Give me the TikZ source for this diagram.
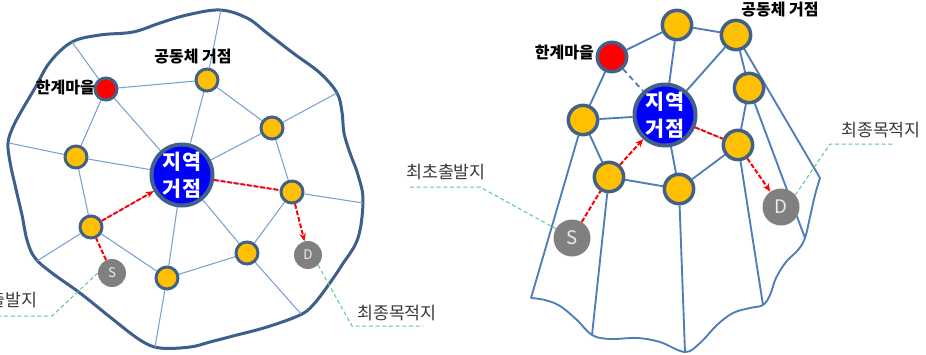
\documentclass[tikz,border=0pt]{standalone}
\usepackage{fontspec}
\newfontfamily\kr{Noto Sans CJK KR}
\usetikzlibrary{arrows.meta,backgrounds}
\definecolor{outlblue}{HTML}{3C5F8C}
\definecolor{thinblue}{HTML}{7BA1D0}
\definecolor{edgeblue}{HTML}{4F7DB9}
\definecolor{nborder}{HTML}{41608A}
\definecolor{nyellow}{HTML}{FFC000}
\definecolor{ngray}{HTML}{808080}
\definecolor{lgreen}{HTML}{5CCB85}
\definecolor{hubblue}{HTML}{0000FF}
\definecolor{labgray}{HTML}{3A3A3A}
\begin{document}
\begin{tikzpicture}[x=0.75pt,y=-0.75pt,
  yl/.style={circle,fill=nyellow,draw=nborder,line width=2.25pt,minimum size=16.5pt,inner sep=0pt},
  rd/.style={yl,fill=red},
  ylb/.style={circle,fill=nyellow,draw=nborder,line width=2.6pt,minimum size=22pt,inner sep=0pt},
  rdb/.style={ylb,fill=red},
  hub/.style={circle,fill=hubblue,draw=nborder,line width=3pt,minimum size=45.75pt,inner sep=0pt,
    text=white,align=center,font=\kr\bfseries\fontsize{15.5}{20.5}\selectfont},
  gs/.style={circle,fill=ngray,minimum size=21pt,inner sep=0pt,text=white!92!black,
    font=\kr\fontsize{10}{12}\selectfont},
  gb/.style={circle,fill=ngray,minimum size=27.75pt,inner sep=0pt,text=white!92!black,
    font=\kr\fontsize{14}{16}\selectfont},
  boldlab/.style={inner sep=0pt,font=\kr\bfseries\fontsize{12}{14}\selectfont,text=black},
  lab/.style={inner sep=0pt,font=\kr\fontsize{13}{15}\selectfont,text=labgray},
  outl/.style={draw=outlblue,line width=2.25pt},
  thinedge/.style={draw=thinblue,line width=0.8pt},
  redge/.style={draw=edgeblue,line width=1.4pt},
  reddash/.style={draw=red,line width=1.5pt,dash pattern=on 3.5pt off 1.5pt},
  redarrow/.style={reddash,-{Stealth[length=6pt,width=5pt]}},
  grn/.style={draw=lgreen,line width=0.75pt,dash pattern=on 3pt off 2pt}
]
\useasboundingbox (0,0) rectangle (926,354);
\clip (0,0) rectangle (926,354);

% ---------- left diagram ----------
\node[rd] (lR) at (106,89) {};
\node[yl] (lA) at (207,80) {};
\node[yl] (lB) at (272,128) {};
\node[yl] (lE) at (76,157) {};
\node[yl] (lF) at (292,192) {};
\node[yl] (lG) at (91,227) {};
\node[yl] (lH) at (247,253) {};
\node[yl] (lI) at (167,278) {};
\node[hub] (lC) at (182,175) {지역\\거점};
\node[gs] (lS) at (112,273) {S};
\node[gs] (lD) at (308,255) {D};

\coordinate (lo1) at (72,42);
\coordinate (lo2) at (221,10);
\coordinate (lo3) at (337,93);
\coordinate (lo4) at (9,143);
\coordinate (lo5) at (363,203);
\coordinate (lo6) at (37,261);
\coordinate (lo7) at (301,314);
\coordinate (lo8) at (155,347);

\begin{pgfonlayer}{background}
\draw[outl] plot[smooth cycle,tension=0.6] coordinates {
 (8,143) (13,127) (22,110) (35,88) (50,62) (72,42) (100,35) (133,32) (160,23) (187,15)
 (220,10) (247,18) (267,33) (293,53) (320,73) (337,93) (342,112) (344,133) (350,153)
 (358,175) (363,200) (358,238) (342,265) (327,287) (313,305) (300,315) (267,327)
 (233,336) (210,342) (190,347) (160,348) (140,340) (110,317) (80,293) (52,273)
 (35,258) (27,240) (22,215) (15,185) (10,162)};
\draw[thinedge] (lR) -- (lo1);
\draw[thinedge] (lR) -- (lA);
\draw[thinedge] (lR) -- (lC);
\draw[thinedge] (lR) -- (lE);
\draw[thinedge] (lA) -- (lo2);
\draw[thinedge] (lA) -- (lC);
\draw[thinedge] (lA) -- (lB);
\draw[thinedge] (lB) -- (lo3);
\draw[thinedge] (lB) -- (lC);
\draw[thinedge] (lB) -- (lF);
\draw[thinedge] (lE) -- (lo4);
\draw[thinedge] (lE) -- (lC);
\draw[thinedge] (lE) -- (lG);
\draw[thinedge] (lF) -- (lo5);
\draw[thinedge] (lF) -- (lC);
\draw[thinedge] (lF) -- (lH);
\draw[thinedge] (lG) -- (lo6);
\draw[thinedge] (lG) -- (lC);
\draw[thinedge] (lG) -- (lI);
\draw[thinedge] (lH) -- (lC);
\draw[thinedge] (lH) -- (lI);
\draw[thinedge] (lH) -- (lo7);
\draw[thinedge] (lI) -- (lC);
\draw[thinedge] (lI) -- (lo8);
\end{pgfonlayer}

\draw[reddash] (lS) -- (lG);
\draw[redarrow] (lG) -- (lC);
\draw[reddash] (lC) -- (lF);
\draw[redarrow] (lF) -- (lD);

\node[boldlab,anchor=east] (lRlab) at (95,87) {한계마을};
\node[boldlab] (lAlab) at (193,57) {공동체 거점};

\coordinate (lsg1) at (52,316);
\coordinate (lsg2) at (0,316);
\draw[grn] (lS.west) -- (lsg1) -- (lsg2);
\node[lab,anchor=east] (lSlab) at (38,300) {최초출발지};

\coordinate (ldg1) at (352,326);
\coordinate (ldg2) at (423,326);
\draw[grn] (lD.south east) -- (ldg1) -- (ldg2);
\node[lab] (lDlab) at (397,313) {최종목적지};

% ---------- right diagram ----------
\node[rdb] (rR) at (612,57) {};
\node[ylb] (rY1) at (677,25) {};
\node[ylb] (rY2) at (736,35) {};
\node[ylb] (rY3) at (749,88) {};
\node[ylb] (rY4) at (583,120) {};
\node[ylb] (rY5) at (738,145) {};
\node[ylb] (rY6) at (609,177) {};
\node[ylb] (rY7) at (679,189) {};
\node[hub] (rC) at (665,115) {지역\\거점};
\node[gb] (rS) at (572,238) {S};
\node[gb] (rD) at (781,207) {D};

\coordinate (rb1) at (531,298);
\coordinate (rb2) at (592,335);
\coordinate (rb3) at (685,352);
\coordinate (rb4) at (763,305);
\coordinate (rb5) at (805,238);
\coordinate (rb6) at (820,178);

\begin{pgfonlayer}{background}
\draw[redge] plot[smooth,tension=0.6] coordinates {
 (531,298) (545,300) (560,306) (577,320) (592,335) (610,339) (637,338) (660,342)
 (685,352) (700,343) (717,325) (733,313) (750,308) (763,305) (770,295) (776,278)
 (786,262) (798,250) (805,238) (810,217) (815,195) (820,178)};
\draw[redge] (rY4) -- (rb1);
\draw[redge] (rY4) -- (rR);
\draw[redge] (rR) -- (rY1);
\draw[redge,dash pattern=on 4pt off 3pt] (rR) -- (rC);
\draw[redge] (rY1) -- (rY2);
\draw[redge] (rY1) -- (rC);
\draw[redge] (rY2) -- (rC);
\draw[redge] (rY2) -- (rY3);
\draw[redge] (rY2) -- (rb6);
\draw[redge] (rY3) -- (rY5);
\draw[redge] (rY3) -- (rb5);
\draw[redge] (rY5) -- (rb4);
\draw[redge] (rY5) -- (rY7);
\draw[thinedge] (rY5) -- (rC);
\draw[redge] (rY4) -- (rC);
\draw[redge] (rY4) -- (rY6);
\draw[redge] (rY6) -- (rY7);
\draw[redge] (rY6) -- (rb2);
\draw[redge] (rY7) -- (rb3);
\draw[redge] (rY7) -- (rC);
\end{pgfonlayer}

\draw[reddash] (rS) -- (rY6);
\draw[redarrow] (rY6) -- (rC);
\draw[reddash] (rC) -- (rY5);
\draw[redarrow] (rY5) -- (rD);

\node[boldlab,anchor=east] (rRlab) at (594,52) {한계마을};
\node[boldlab] (rYlab) at (780,10) {공동체 거점};

\coordinate (rsg1) at (410,187);
\coordinate (rsg2) at (480,187);
\draw[grn] (rsg1) -- (rsg2) -- (rS.150);
\node[lab] (rSlab) at (446,172) {최초출발지};

\coordinate (rdg1) at (830,144);
\coordinate (rdg2) at (893,144);
\draw[grn] (rD.40) -- (rdg1) -- (rdg2);
\node[lab] (rDlab) at (881,130) {최종목적지};
\end{tikzpicture}
\end{document}
